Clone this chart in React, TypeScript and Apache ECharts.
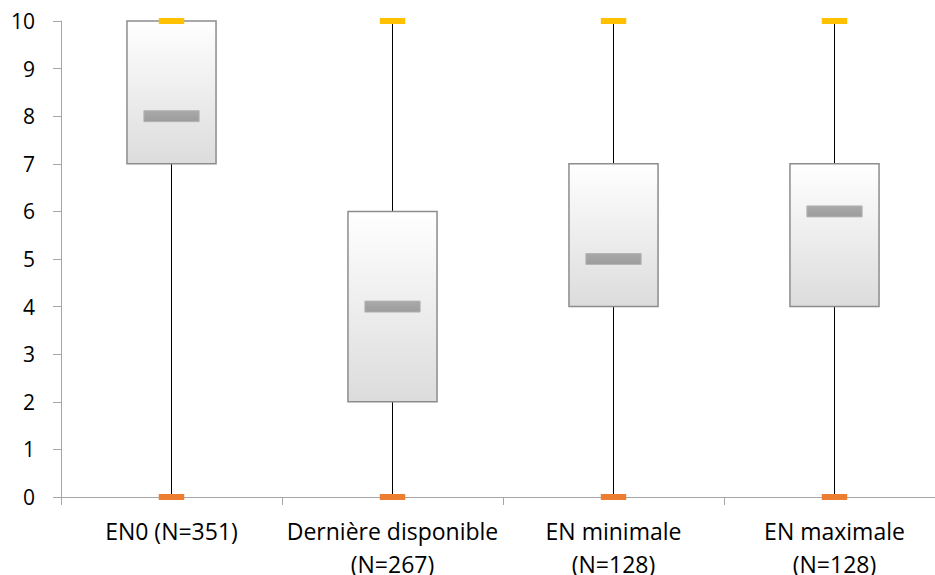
import React, { useEffect, useRef } from "react";
import * as echarts from "echarts";

const categories = ["EN0 (N=351)", "Dernière disponible\n(N=267)", "EN minimale\n(N=128)", "EN maximale\n(N=128)"];
const minValues = [0, 0, 0, 0];
const q1Values = [7, 2, 4, 4];
const medianValues = [8, 4, 5, 6];
const q3Values = [10, 6, 7, 7];
const maxValues = [10, 10, 10, 10];

const FONT = "Open Sans";

export default function App() {
  const ref = useRef<HTMLDivElement>(null);
  useEffect(() => {
    if (!ref.current) return;
    const chart = echarts.init(ref.current, undefined, { renderer: "svg" });
    const data = categories.map((_, i) => [i, minValues[i], q1Values[i], medianValues[i], q3Values[i], maxValues[i]]);
    chart.setOption({
      animation: false,
      grid: { left: 61, top: 21, width: 884, height: 476, outerBoundsMode: "none", containLabel: false },
      xAxis: {
        type: "category",
        data: categories,
        boundaryGap: true,
        axisLine: { lineStyle: { color: "#a6a6a6", width: 1 } },
        axisTick: { show: true, length: 8, lineStyle: { color: "#a6a6a6" } },
        axisLabel: { color: "#000", fontFamily: FONT, fontSize: 23, lineHeight: 33, margin: 17, interval: 0 },
        splitLine: { show: false },
      },
      yAxis: {
        type: "value",
        min: 0,
        max: 10,
        interval: 1,
        axisLine: { show: true, lineStyle: { color: "#a6a6a6", width: 1 } },
        axisTick: { show: true, length: 8, lineStyle: { color: "#a6a6a6" } },
        axisLabel: { color: "#000", fontFamily: FONT, fontSize: 21, margin: 26 },
        splitLine: { show: false },
      },
      series: [
        {
          type: "custom",
          data,
          encode: { x: 0, y: [1, 2, 3, 4, 5] },
          renderItem: (params: any, api: any) => {
            const idx = api.value(0);
            const vMin = api.value(1);
            const vQ1 = api.value(2);
            const vMed = api.value(3);
            const vQ3 = api.value(4);
            const vMax = api.value(5);
            const band = api.size([1, 0])[0];
            const pMin = api.coord([idx, vMin]);
            const pQ1 = api.coord([idx, vQ1]);
            const pMed = api.coord([idx, vMed]);
            const pQ3 = api.coord([idx, vQ3]);
            const pMax = api.coord([idx, vMax]);
            const cx = pMin[0];
            const boxW = band * 0.403;
            const medW = band * 0.25;
            const medH = 11;
            const mkW = band * 0.115;
            const mkH = 6;
            const children: any[] = [];
            if (pQ1[1] < pMin[1]) {
              children.push({ type: "line", shape: { x1: cx, y1: pMin[1], x2: cx, y2: pQ1[1] }, style: { stroke: "#000", lineWidth: 1 } });
            }
            if (pMax[1] < pQ3[1]) {
              children.push({ type: "line", shape: { x1: cx, y1: pQ3[1], x2: cx, y2: pMax[1] }, style: { stroke: "#000", lineWidth: 1 } });
            }
            children.push({
              type: "rect",
              shape: { x: cx - boxW / 2, y: pQ3[1], width: boxW, height: pQ1[1] - pQ3[1] },
              style: {
                fill: new echarts.graphic.LinearGradient(0, 0, 0, 1, [
                  { offset: 0, color: "#ffffff" },
                  { offset: 1, color: "#dcdcdc" },
                ]),
                stroke: "#8c8c8c",
                lineWidth: 1.5,
              },
            });
            children.push({
              type: "rect",
              shape: { x: cx - medW / 2, y: pMed[1] - medH / 2, width: medW, height: medH },
              style: {
                fill: new echarts.graphic.LinearGradient(0, 0, 0, 1, [
                  { offset: 0, color: "#a9a9a9" },
                  { offset: 1, color: "#9c9c9c" },
                ]),
                stroke: "#b5b5b5",
                lineWidth: 1,
              },
            });
            children.push({
              type: "rect",
              shape: { x: cx - mkW / 2, y: pMax[1] - mkH / 2, width: mkW, height: mkH },
              style: { fill: "#ffc000" },
            });
            children.push({
              type: "rect",
              shape: { x: cx - mkW / 2, y: pMin[1] - mkH / 2, width: mkW, height: mkH },
              style: { fill: "#ed7d31" },
            });
            return { type: "group", children };
          },
        },
      ],
    });
    return () => chart.dispose();
  }, []);
  return (
    <div style={{ position: "absolute", left: 0, top: 0, width: 935, height: 575, overflow: "hidden" }}>
      <div ref={ref} style={{ width: 935, height: 575, overflow: "hidden" }} />
    </div>
  );
}
